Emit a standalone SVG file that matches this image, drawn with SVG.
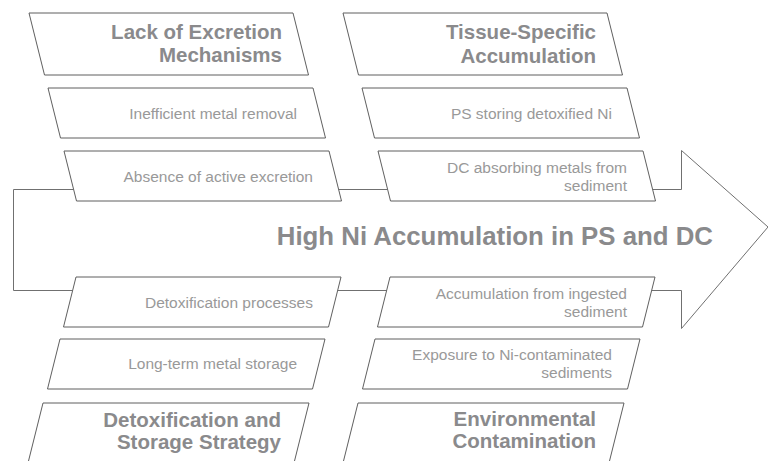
<svg xmlns="http://www.w3.org/2000/svg" width="768" height="461" viewBox="0 0 768 461">
  <style>
    .box { fill: #ffffff; stroke: #5f5f5f; stroke-width: 1; }
    .wire { fill: none; stroke: #707070; stroke-width: 1; }
    .head { font-family: "Liberation Sans", Arial, sans-serif; font-weight: bold; font-size: 20.5px; fill: #8a8a8c; text-anchor: end; }
    .item { font-family: "Liberation Sans", Arial, sans-serif; font-size: 15.5px; fill: #999999; text-anchor: end; }
    .title { font-family: "Liberation Sans", Arial, sans-serif; font-weight: bold; font-size: 25.8px; fill: #8a8a8c; text-anchor: end; }
  </style>
  <rect width="768" height="461" fill="#ffffff"/>

  <!-- spine: block arrow outline broken by the cause boxes -->
  <g id="connectors">
    <path class="wire" d="M73.6,189.5 H13.5 V290.5 H72.8"/>
    <path class="wire" d="M338.6,189.5 H387.6"/>
    <path class="wire" d="M337.8,290.5 H387.8"/>
    <path class="wire" d="M652.6,189.5 H681.5 V150.5 L768,227 L681.5,328.5 V290.5 H651.8"/>
  </g>

  <g id="title">
    <text class="title" x="713" y="245">High Ni Accumulation in PS and DC</text>
  </g>

  <!-- upper-left branch -->
  <g id="cat-excretion">
    <polygon class="box" points="29,13 293,13 308.5,75 44.5,75"/>
    <text class="head" x="282" y="39">Lack of Excretion</text>
    <text class="head" x="282" y="62">Mechanisms</text>
  </g>
  <g id="cause-inefficient-removal">
    <polygon class="box" points="48,88 313,88 325.5,138 60.5,138"/>
    <text class="item" x="297" y="118.5">Inefficient metal removal</text>
  </g>
  <g id="cause-no-active-excretion">
    <polygon class="box" points="64,151 329,151 341.5,201 76.5,201"/>
    <text class="item" x="313" y="181.5">Absence of active excretion</text>
  </g>

  <!-- upper-right branch -->
  <g id="cat-tissue">
    <polygon class="box" points="343,13 607,13 622.5,75 358.5,75"/>
    <text class="head" x="596" y="38.5">Tissue-Specific</text>
    <text class="head" x="596" y="62.5">Accumulation</text>
  </g>
  <g id="cause-ps-storing">
    <polygon class="box" points="362,88 627,88 639.5,138 374.5,138"/>
    <text class="item" x="612" y="118.5">PS storing detoxified Ni</text>
  </g>
  <g id="cause-dc-absorbing">
    <polygon class="box" points="378,151 643,151 655.5,201 390.5,201"/>
    <text class="item" x="627" y="172.5">DC absorbing metals from</text>
    <text class="item" x="627" y="190.5">sediment</text>
  </g>

  <!-- lower-left branch -->
  <g id="cause-detox-processes">
    <polygon class="box" points="76,277 341,277 328.5,327 63.5,327"/>
    <text class="item" x="313" y="307.5">Detoxification processes</text>
  </g>
  <g id="cause-long-term-storage">
    <polygon class="box" points="60,339 325,339 312.5,389 47.5,389"/>
    <text class="item" x="297" y="369">Long-term metal storage</text>
  </g>
  <g id="cat-detox">
    <polygon class="box" points="43,403 309,403 293.5,465 27.5,465"/>
    <text class="head" x="281" y="426.5">Detoxification and</text>
    <text class="head" x="281" y="448.5">Storage Strategy</text>
  </g>

  <!-- lower-right branch -->
  <g id="cause-ingested-sediment">
    <polygon class="box" points="390,277 655,277 642.5,327 377.5,327"/>
    <text class="item" x="627" y="298.5">Accumulation from ingested</text>
    <text class="item" x="627" y="316.5">sediment</text>
  </g>
  <g id="cause-contaminated-sediment">
    <polygon class="box" points="375,339 640,339 627.5,389 362.5,389"/>
    <text class="item" x="612" y="359.5">Exposure to Ni-contaminated</text>
    <text class="item" x="612" y="378">sediments</text>
  </g>
  <g id="cat-environment">
    <polygon class="box" points="358,403 624,403 608.5,465 342.5,465"/>
    <text class="head" x="596" y="425.5">Environmental</text>
    <text class="head" x="596" y="447.5">Contamination</text>
  </g>
</svg>
